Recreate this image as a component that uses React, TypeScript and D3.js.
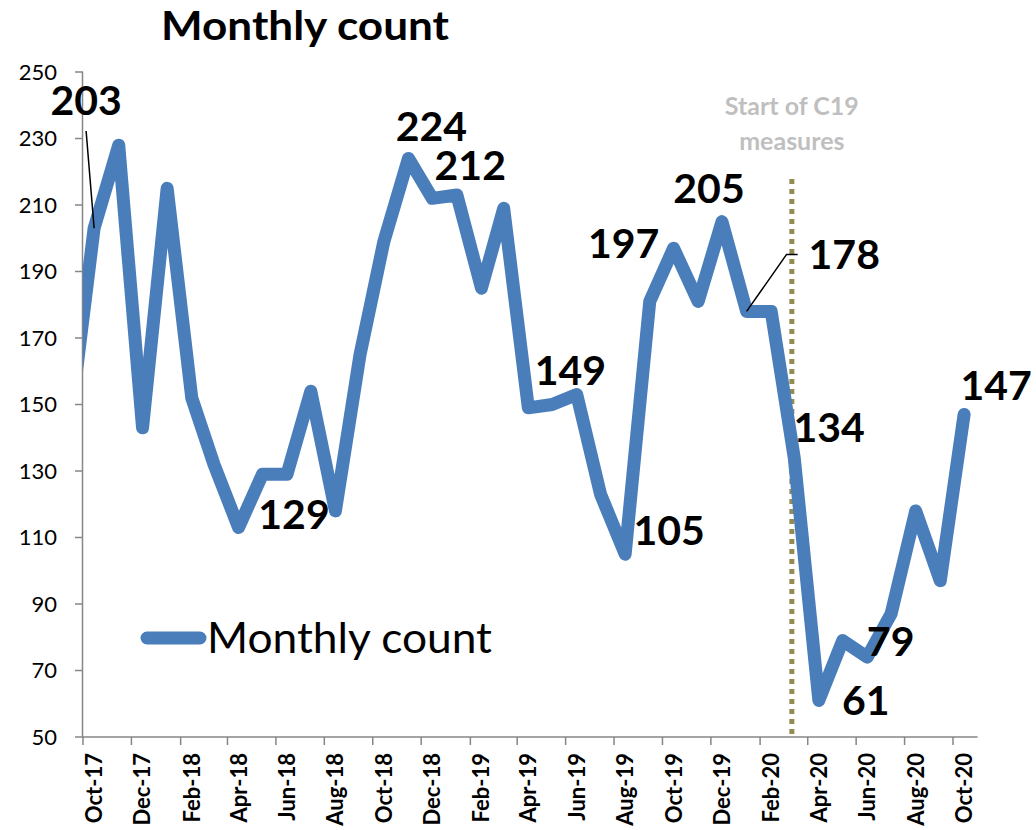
import React from "react";
import * as d3 from "d3";

// ---------- DATA ----------
const months = [
  "Sep-17", "Oct-17", "Nov-17", "Dec-17", "Jan-18", "Feb-18", "Mar-18", "Apr-18", "May-18", "Jun-18",
  "Jul-18", "Aug-18", "Sep-18", "Oct-18", "Nov-18", "Dec-18", "Jan-19", "Feb-19", "Mar-19", "Apr-19",
  "May-19", "Jun-19", "Jul-19", "Aug-19", "Sep-19", "Oct-19", "Nov-19", "Dec-19", "Jan-20", "Feb-20",
  "Mar-20", "Apr-20", "May-20", "Jun-20", "Jul-20", "Aug-20", "Sep-20", "Oct-20",
];
const counts = [
  145, 203, 228, 143, 215, 152, 132, 113, 129, 129,
  154, 118, 165, 199, 224, 212, 213, 185, 209, 149,
  150, 153, 123, 105, 181, 197, 181, 205, 178, 178,
  134, 61, 79, 74, 87, 118, 97, 147,
];
const xTickLabels = [
  "Oct-17", "Dec-17", "Feb-18", "Apr-18", "Jun-18", "Aug-18", "Oct-18", "Dec-18", "Feb-19", "Apr-19",
  "Jun-19", "Aug-19", "Oct-19", "Dec-19", "Feb-20", "Apr-20", "Jun-20", "Aug-20", "Oct-20",
];
const yTicks = [50, 70, 90, 110, 130, 150, 170, 190, 210, 230, 250];
const labelMonths = ["Oct-17", "Nov-18", "Dec-18", "Jun-18", "Apr-19", "Aug-19", "Oct-19", "Dec-19", "Jan-20", "Mar-20", "Apr-20", "May-20", "Oct-20"];
const seriesName = "Monthly count";
const chartTitle = "Monthly count";
const annotationLines = ["Start of C19", "measures"];
const annotationDate = "2020-03-12";
const axisStart = "2017-10-01";
const axisEnd = "2020-11-01";

// ---------- LAYOUT ----------
const W = 1036, H = 830;
const X0 = 83, X1 = 977.6, Y0 = 737, Y1 = 72;
const FONT = "Lato, 'Open Sans', sans-serif";
const BLUE = "#4A7EBB";
const AXIS = "#868686";
// label offsets relative to the labelled point (dx, dy to text baseline, anchor)
const labelLayout: Record<string, [number, number, string]> = {
  "Oct-17": [-8, -113, "middle"],
  "Nov-18": [23, -17, "middle"],
  "Dec-18": [38, -18, "middle"],
  "Jun-18": [7, 55, "middle"],
  "Apr-19": [42, -23, "middle"],
  "Aug-19": [44, -9, "middle"],
  "Oct-19": [-50, 10, "middle"],
  "Dec-19": [-13, -19, "middle"],
  "Jan-20": [62, -42, "start"],
  "Mar-20": [35, -16, "middle"],
  "Apr-20": [47, 15, "middle"],
  "May-20": [48, 15, "middle"],
  "Oct-20": [32, -14, "middle"],
};

const parseMonth = d3.timeParse("%b-%y");
const mid = (m: string) => {
  const d = parseMonth(m) as Date;
  return new Date(d.getFullYear(), d.getMonth(), 15);
};
const first = (m: string) => parseMonth(m) as Date;

export default function App() {
  const x = d3.scaleTime()
    .domain([d3.timeParse("%Y-%m-%d")(axisStart) as Date, d3.timeParse("%Y-%m-%d")(axisEnd) as Date])
    .range([X0, X1]);
  const y = d3.scaleLinear().domain([50, 250]).range([Y0, Y1]);

  const pts = months.map((m, i) => ({ m, v: counts[i], d: mid(m) }));
  const line = d3.line<{ d: Date; v: number }>()
    .x((p) => x(p.d))
    .y((p) => y(p.v))
    .curve(d3.curveLinear);

  const annX = x(d3.timeParse("%Y-%m-%d")(annotationDate) as Date);

  const ptOf = (m: string) => {
    const p = pts.find((q) => q.m === m)!;
    return [x(p.d), y(p.v), p.v] as [number, number, number];
  };

  const [p203x, p203y] = ptOf("Oct-17");
  const [p178x, p178y] = ptOf("Jan-20");

  return (
    <svg width={W} height={H} style={{ position: "absolute", left: 0, top: 0, background: "#fff" }} fontFamily={FONT}>
      <defs>
        <clipPath id="plot">
          <rect x={X0} y={0} width={X1 - X0} height={H} />
        </clipPath>
      </defs>

      {/* title */}
      <text x={161} y={40} fontSize={40} fontWeight={700} fill="#000" textLength={288} lengthAdjust="spacingAndGlyphs">{chartTitle}</text>

      {/* y axis */}
      <line x1={X0 - 0.5} x2={X0 - 0.5} y1={Y1} y2={Y0} stroke={AXIS} strokeWidth={1.5} />
      {yTicks.map((t) => (
        <g key={t}>
          <line x1={X0 - 8} x2={X0} y1={y(t)} y2={y(t)} stroke={AXIS} strokeWidth={1.5} />
          <text x={57} y={y(t)} dy="0.36em" textAnchor="end" fontSize={22} fill="#000">{t}</text>
        </g>
      ))}

      {/* x axis */}
      <line x1={X0 - 0.5} x2={X1} y1={Y0} y2={Y0} stroke={AXIS} strokeWidth={1.5} />
      {xTickLabels.map((m) => (
        <g key={m}>
          <line x1={x(first(m))} x2={x(first(m))} y1={Y0} y2={Y0 + 8} stroke={AXIS} strokeWidth={1.5} />
          <text
            transform={`translate(${x(mid(m))},${Y0 + 16}) rotate(-90)`}
            textAnchor="end"
            dy="0.36em"
            fontSize={22}
            fontWeight={700}
            fill="#000"
          >
            {m}
          </text>
        </g>
      ))}

      {/* C19 marker */}
      <line x1={annX} x2={annX} y1={179} y2={Y0} stroke="#948A54" strokeWidth={5} strokeDasharray="5,5" />
      {annotationLines.map((t, i) => (
        <text key={t} x={annX} y={115 + i * 35} textAnchor="middle" fontSize={25} fontWeight={700} fill="#BFBFBF">{t}</text>
      ))}

      {/* series */}
      <g clipPath="url(#plot)">
        <path d={line(pts) as string} fill="none" stroke={BLUE} strokeWidth={13} strokeLinejoin="round" strokeLinecap="round" />
      </g>

      {/* leader lines */}
      <line x1={p203x - 8} y1={131} x2={p203x} y2={p203y} stroke="#000" strokeWidth={1.5} />
      <polyline points={`${p178x},${p178y} ${p178x + 40},${p178y - 57} ${p178x + 51},${p178y - 57}`} fill="none" stroke="#000" strokeWidth={1.5} />

      {/* data labels */}
      {labelMonths.map((m) => {
        const [px, py, v] = ptOf(m);
        const [dx, dy, anchor] = labelLayout[m];
        return (
          <text key={m} x={px + dx} y={py + dy} textAnchor={anchor} fontSize={41} fontWeight={700} fill="#000">{v}</text>
        );
      })}

      {/* legend */}
      <line x1={147} x2={200} y1={638} y2={638} stroke={BLUE} strokeWidth={13} strokeLinecap="round" />
      <text x={207} y={653} fontSize={42} fill="#000" textLength={285} lengthAdjust="spacingAndGlyphs">{seriesName}</text>
    </svg>
  );
}
